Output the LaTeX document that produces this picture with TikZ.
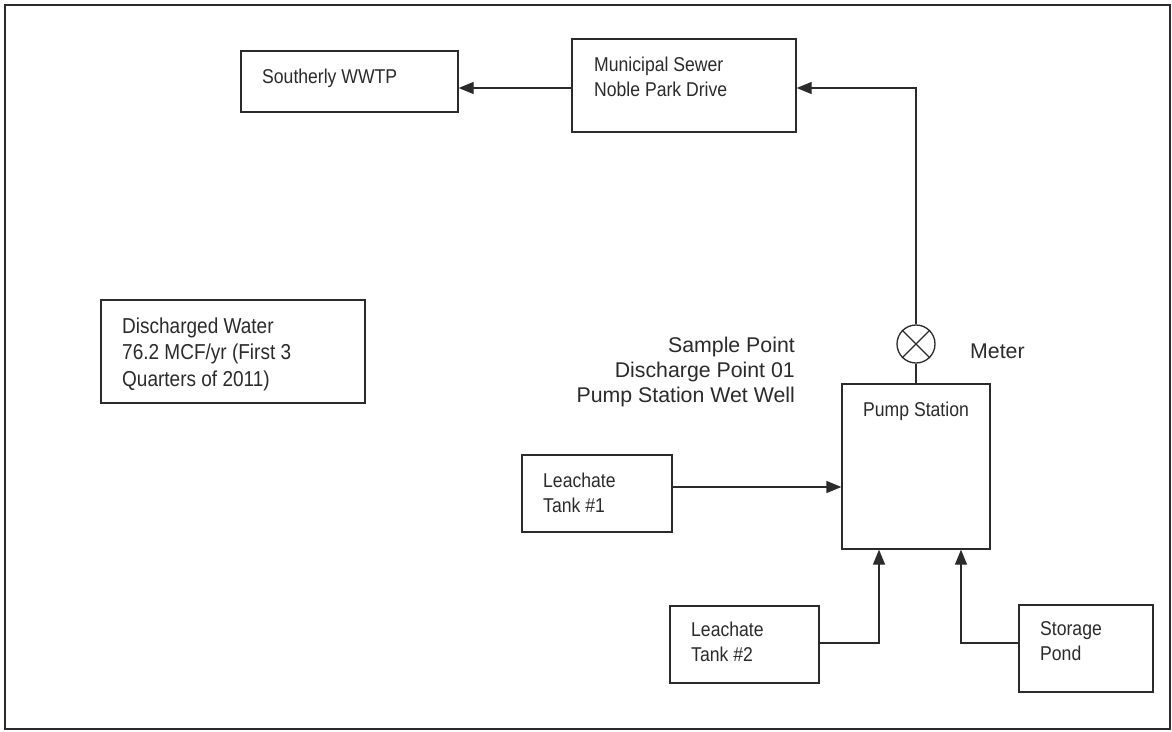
\documentclass[tikz,border=0pt]{standalone}
\usepackage{fontspec}
\setmainfont{Liberation Sans}
\newfontfamily\boxfont[FakeStretch=0.88]{Liberation Sans}
\usetikzlibrary{arrows.meta}
\definecolor{ink}{HTML}{2B2B2B}
\tikzset{
  box/.style={draw=ink, line width=1.3pt, rectangle, inner sep=0pt},
  boxlabel/.style={anchor=west, inner sep=0pt, align=left, text=ink,
    font=\boxfont\fontsize{20}{24.5}\selectfont},
  biglabel/.style={inner sep=0pt, text=ink,
    font=\fontsize{21.3}{25}\selectfont},
  flow/.style={draw=ink, line width=1.3pt,
    -{Triangle[length=15pt, width=12pt]}},
  plain/.style={draw=ink, line width=1.3pt}
}
\begin{document}
\begin{tikzpicture}[x=1pt, y=-1pt]
\useasboundingbox (0,0) rectangle (1172,731);
\fill[white] (0,0) rectangle (1172,731);
\draw[ink, line width=1.2pt] (5,5) rectangle (1170,729);

% boxes (centre, size)
\node[box, minimum width=217pt, minimum height=61pt] (sw) at (349.5,81.5) {};
\node[box, minimum width=224pt, minimum height=93pt] (mun) at (684,85.5) {};
\node[box, minimum width=264pt, minimum height=103pt] (dw) at (233,351.5) {};
\node[box, minimum width=150pt, minimum height=77pt] (t1) at (597,493.5) {};
\node[box, minimum width=148pt, minimum height=165pt] (pump) at (916,466.5) {};
\node[box, minimum width=149pt, minimum height=77pt] (t2) at (744.5,644.5) {};
\node[box, minimum width=134pt, minimum height=87pt] (sp) at (1086,648.5) {};
\node[draw=ink, line width=1.3pt, circle, minimum size=38pt, inner sep=0pt] (meter) at (916,344) {};
\draw[plain] (meter.45) -- (meter.225) (meter.135) -- (meter.315);

% labels
\node[boxlabel] (swl) at (262,78) {Southerly WWTP};
\node[boxlabel] (munl) at (594,77) {Municipal Sewer\\Noble Park Drive};
\node[boxlabel, font=\boxfont\fontsize{21.6}{26.5}\selectfont] (dwl) at (122,354) {Discharged Water\\76.2 MCF/yr (First 3\\Quarters of 2011)};
\node[boxlabel] (t1l) at (543,493) {Leachate\\Tank \#1};
\node[boxlabel] (pumpl) at (863,411) {Pump Station};
\node[boxlabel] (t2l) at (691,642) {Leachate\\Tank \#2};
\node[boxlabel] (spl) at (1040,641) {Storage\\Pond};
\node[biglabel, anchor=east, align=right] (sample) at (795,372) {Sample Point\\Discharge Point 01\\Pump Station Wet Well};
\node[biglabel, anchor=west] (meterl) at (970,351) {Meter};

% helper coordinates
\coordinate (ytop) at (0,88);
\coordinate (yt1) at (0,487);
\coordinate (yt2) at (0,643);
\coordinate (xt2) at (879,0);
\coordinate (xsp) at (961,0);

% connectors
\draw[flow] (mun.west |- ytop) -- (sw.east |- ytop);
\draw[flow] (meter.north) |- (mun.east |- ytop);
\draw[plain] (meter.south) -- (pump.north);
\draw[flow] (t1.east |- yt1) -- (pump.west |- yt1);
\draw[flow] (t2.east |- yt2) -| (pump.south -| xt2);
\draw[flow] (sp.west |- yt2) -| (pump.south -| xsp);
\end{tikzpicture}
\end{document}
